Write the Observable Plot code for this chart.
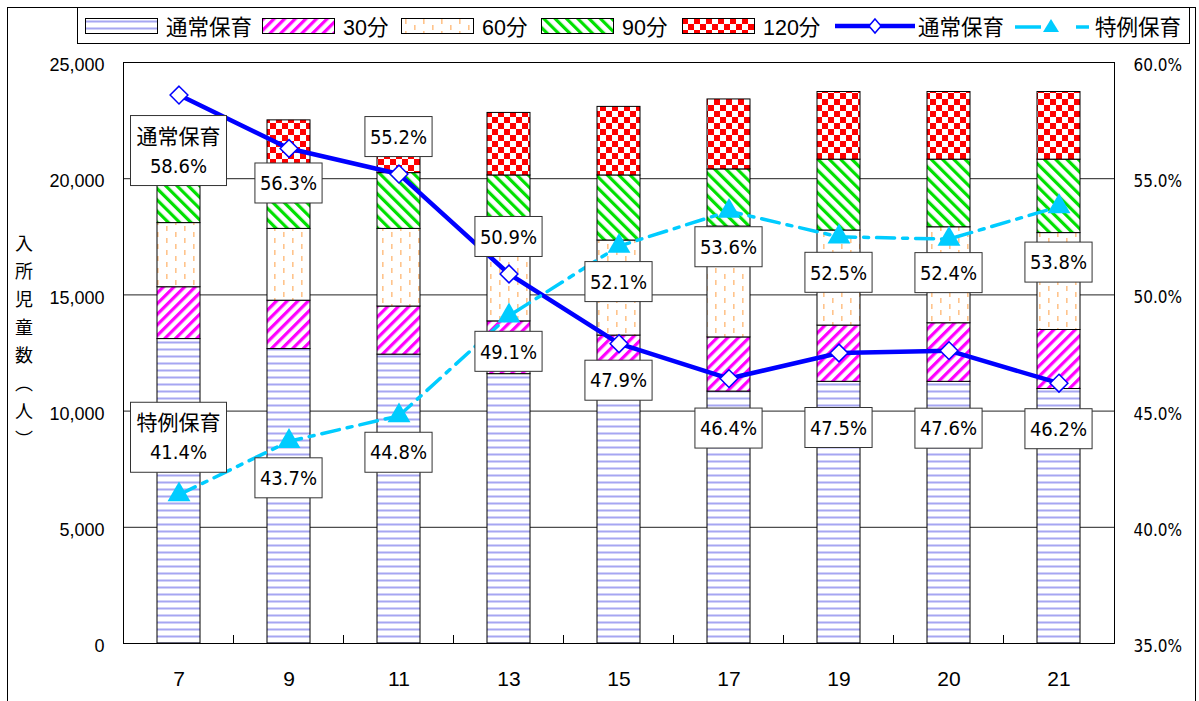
<!DOCTYPE html>
<html>
<head>
<meta charset="utf-8">
<script src="https://cdn.jsdelivr.net/npm/d3@7"></script>
<script src="https://cdn.jsdelivr.net/npm/@observablehq/plot@0.6"></script>
<style>
  html, body { margin: 0; padding: 0; background: #fff; }
  body { width: 1199px; height: 701px; overflow: hidden; position: relative; color: #000;
         font-family: "Liberation Sans", "Noto Sans CJK JP", sans-serif; }
  #outer { position: absolute; left: 7px; top: 7px; width: 1189px; height: 720px; border: 1px solid #000; box-sizing: border-box; }
  #legend { position: absolute; left: 77px; top: 7px; width: 1113px; height: 37px; border: 1px solid #000; box-sizing: border-box; background: #fff; font-size: 21.5px; }
  .item { position: absolute; top: 0; height: 35px; display: flex; align-items: center; white-space: nowrap; }
  .item svg { margin-right: 8px; display: block; }
  #ytitle { position: absolute; left: 15px; top: 234px; writing-mode: vertical-rl; font-family: "Noto Sans CJK JP", sans-serif; font-size: 18px; letter-spacing: 10px; line-height: 18px; }
  #chart { position: absolute; left: 0; top: 45px; }
</style>
</head>
<body>
<svg width="0" height="0" style="position:absolute">
  <defs>
    <pattern id="pNormal" width="8" height="7" patternUnits="userSpaceOnUse">
      <rect width="8" height="7" fill="#fff"/>
      <rect y="2.5" width="8" height="2" fill="#a6a6f2"/>
    </pattern>
    <pattern id="p30" width="7.5" height="7.5" patternUnits="userSpaceOnUse" patternTransform="rotate(45)">
      <rect width="7.5" height="7.5" fill="#fff"/>
      <rect width="3.2" height="7.5" fill="#ff00ff"/>
    </pattern>
    <pattern id="p60" width="18" height="12" patternUnits="userSpaceOnUse">
      <rect width="18" height="12" fill="#fff"/>
      <rect x="4" y="1" width="1.6" height="5" fill="#ffc48c"/>
      <rect x="13" y="7" width="1.6" height="5" fill="#ffc48c"/>
    </pattern>
    <pattern id="p90" width="8" height="8" patternUnits="userSpaceOnUse" patternTransform="rotate(-45)">
      <rect width="8" height="8" fill="#fff"/>
      <rect width="3.2" height="8" fill="#00e000"/>
    </pattern>
    <pattern id="p120" width="12" height="12" patternUnits="userSpaceOnUse">
      <rect width="12" height="12" fill="#fff"/>
      <rect width="6" height="6" fill="#ff0000"/>
      <rect x="6" y="6" width="6" height="6" fill="#ff0000"/>
    </pattern>
  </defs>
</svg>
<div id="outer"></div>
<div id="legend"></div>
<div id="ytitle">入所児童数（人）</div>
<div id="chart"></div>
<script>
// ---------- data ----------
const years = ["7", "9", "11", "13", "15", "17", "19", "20", "21"];
const seriesNames = ["通常保育", "30分", "60分", "90分", "120分"];
const normalCare = [13100, 12670, 12430, 11590, 11060, 10840, 11260, 11260, 10950];
const care30     = [2230, 2080, 2070, 2270, 2190, 2330, 2420, 2520, 2540];
const care60     = [2760, 3090, 3340, 3740, 4090, 4770, 4090, 4130, 4170];
const care90     = [2110, 2460, 2400, 2540, 2800, 2460, 3050, 2910, 3160];
const care120    = [2150, 2210, 2280, 2690, 2950, 3010, 2910, 2910, 2910];
const lineNames = ["通常保育", "特例保育"];
const normalRate  = [58.6, 56.3, 55.2, 50.9, 47.9, 46.4, 47.5, 47.6, 46.2];
const specialRate = [41.4, 43.7, 44.8, 49.1, 52.1, 53.6, 52.5, 52.4, 53.8];
const leftTicks = [0, 5000, 10000, 15000, 20000, 25000];
const rightTicks = [35, 40, 45, 50, 55, 60];

// ---------- layout / style ----------
const patternUrls = ["url(#pNormal)", "url(#p30)", "url(#p60)", "url(#p90)", "url(#p120)"];
const blue = "#0000ff", sky = "#00ccff";
const dashDot = "18,8,5,8";
// label box offsets from the point (px)
const normalLabelDy  = [56, 35, -37, -37, 37, 50, 75, 78, 46];
const specialLabelDy = [-57, 37, 37, 36, 36, 36, 36, 34, 56];
const narrow = "'Liberation Sans Narrow', 'DejaVu Sans Condensed', 'Noto Sans CJK JP', sans-serif";
const NS = "http://www.w3.org/2000/svg";

const seriesValues = [normalCare, care30, care60, care90, care120];
const barData = [];
seriesNames.forEach((s, k) => years.forEach((y, i) => barData.push({year: y, series: s, value: seriesValues[k][i]})));
const rateMin = rightTicks[0], rateMax = rightTicks[rightTicks.length - 1];
const yMax = leftTicks[leftTicks.length - 1];
const rateToY = r => (r - rateMin) / (rateMax - rateMin) * yMax;
const normalData = years.map((y, i) => ({year: y, v: rateToY(normalRate[i])}));
const specialData = years.map((y, i) => ({year: y, v: rateToY(specialRate[i])}));

function el(tag, attrs = {}) {
  const e = document.createElementNS(NS, tag);
  for (const k in attrs) e.setAttribute(k, attrs[k]);
  return e;
}

function labelMark(rates, offsets, firstName) {
  return (index, scales) => {
    const {x, y} = scales;
    const bw = typeof x.bandwidth === "function" ? x.bandwidth() : 0;
    const g = el("g", {"aria-label": "rate labels"});
    rates.forEach((r, i) => {
      const cx = x(years[i]) + bw / 2;
      const cy = y(rateToY(r)) + offsets[i];
      const lines = i === 0 ? [firstName, r.toFixed(1) + "%"] : [r.toFixed(1) + "%"];
      const t = el("text", {class: "lbl", "text-anchor": "middle", "font-family": narrow, "font-size": 20, fill: "#000",
                            "data-cy": cy, "data-n": lines.length});
      lines.forEach((s, k) => {
        const ts = el("tspan", {x: cx, y: cy + (k - (lines.length - 1) / 2) * 30, dy: "0.36em"});
        if (lines.length > 1 && k === 0) { ts.setAttribute("font-size", 21); ts.setAttribute("font-family", "'Noto Sans CJK JP', sans-serif"); ts.setAttribute("dy", "0.38em"); }
        ts.textContent = s;
        t.appendChild(ts);
      });
      g.appendChild(t);
    });
    return g;
  };
}

function bandTicks(index, scales) {
  const {x, y} = scales;
  const bw = typeof x.bandwidth === "function" ? x.bandwidth() : 0;
  const g = el("g", {stroke: "#000", "stroke-width": 1});
  const y0 = y(0);
  for (let i = 1; i < years.length; i++) {
    const bx = (x(years[i - 1]) + bw + x(years[i])) / 2;
    g.appendChild(el("line", {x1: bx, x2: bx, y1: y0, y2: y0 - 8}));
  }
  return g;
}

const chart = Plot.plot({
  width: 1199,
  height: 656,
  marginTop: 17,
  marginBottom: 58,
  marginLeft: 123,
  marginRight: 85,
  style: {background: "transparent", overflow: "visible"},
  x: {domain: years, paddingInner: 0.606, paddingOuter: 0.303},
  y: {domain: [0, yMax]},
  color: {type: "ordinal", domain: seriesNames, range: patternUrls},
  marks: [
    Plot.ruleY(leftTicks.slice(1, -1), {stroke: "#222", strokeWidth: 1}),
    Plot.barY(barData, {x: "year", y: "value", fill: "series", stroke: "#000", strokeWidth: 1, order: seriesNames}),
    Plot.line(normalData, {x: "year", y: "v", stroke: blue, strokeWidth: 4.5}),
    Plot.line(specialData, {x: "year", y: "v", stroke: sky, strokeWidth: 3.5, strokeDasharray: dashDot}),
    Plot.dot(normalData, {x: "year", y: "v", symbol: "diamond2", r: 8, fill: "#fff", stroke: blue, strokeWidth: 1.5}),
    Plot.dot(specialData, {x: "year", y: "v", symbol: "triangle", r: 8.5, fill: sky}),
    labelMark(normalRate, normalLabelDy, lineNames[0]),
    labelMark(specialRate, specialLabelDy, lineNames[1]),
    Plot.frame({stroke: "#000"}),
    bandTicks,
    Plot.axisX({tickSize: 0, tickPadding: 28, fontSize: 21, fontFamily: "'Liberation Sans', sans-serif", label: null}),
    Plot.axisY(leftTicks, {anchor: "left", tickSize: 0, tickPadding: 19, dy: 3, fontSize: 18, fontFamily: "'Liberation Sans', sans-serif",
                           tickFormat: d3.format(","), label: null}),
    Plot.axisY(rightTicks.map(rateToY), {anchor: "right", tickSize: 0, tickPadding: 19, dy: 3, fontSize: 17, fontFamily: narrow,
                           tickFormat: v => (rateMin + v / yMax * (rateMax - rateMin)).toFixed(1) + "%", label: null})
  ]
});
document.getElementById("chart").appendChild(chart);

// white boxes behind the rate labels
document.querySelectorAll("text.lbl").forEach(t => {
  const b = t.getBBox();
  const n = +t.getAttribute("data-n");
  const cy = +t.getAttribute("data-cy");
  const h = n > 1 ? 70 : 40;
  const w = b.width + (n > 1 ? 12 : 10);
  const r = el("rect", {x: b.x + b.width / 2 - w / 2, y: cy - h / 2, width: w, height: h, fill: "#fff", stroke: "#333", "stroke-width": 1});
  t.parentNode.insertBefore(r, t);
});

// ---------- legend ----------
const legend = document.getElementById("legend");
const legendLeft = [7, 184, 323, 463, 604, 757, 937];
function swatchSvg(w, h) { return el("svg", {width: w, height: h}); }
seriesNames.forEach((s, k) => {
  const d = document.createElement("div");
  d.className = "item";
  d.style.left = legendLeft[k] + "px";
  const sv = swatchSvg(73, 16);
  sv.appendChild(el("rect", {x: 0.5, y: 0.5, width: 72, height: 15, fill: patternUrls[k], stroke: "#000"}));
  d.appendChild(sv);
  d.appendChild(document.createTextNode(s));
  legend.appendChild(d);
});
{
  const d = document.createElement("div");
  d.className = "item"; d.style.left = legendLeft[5] + "px";
  const sv = swatchSvg(80, 18);
  sv.appendChild(el("line", {x1: 0, x2: 80, y1: 9, y2: 9, stroke: blue, "stroke-width": 4.5}));
  sv.appendChild(el("path", {d: "M40,2L46,9L40,16L34,9Z", fill: "#fff", stroke: blue, "stroke-width": 1.5}));
  sv.style.marginRight = "3px";
  d.appendChild(sv);
  d.appendChild(document.createTextNode(lineNames[0]));
  legend.appendChild(d);
}
{
  const d = document.createElement("div");
  d.className = "item"; d.style.left = legendLeft[6] + "px";
  const sv = swatchSvg(74, 18);
  sv.appendChild(el("line", {x1: 0, x2: 26, y1: 10, y2: 10, stroke: sky, "stroke-width": 3.5}));
  sv.appendChild(el("path", {d: "M36,2L44,15L28,15Z", fill: sky}));
  sv.appendChild(el("line", {x1: 61, x2: 74, y1: 10, y2: 10, stroke: sky, "stroke-width": 3.5}));
  sv.style.marginRight = "6px";
  d.appendChild(sv);
  d.appendChild(document.createTextNode(lineNames[1]));
  legend.appendChild(d);
}
</script>
</body>
</html>
